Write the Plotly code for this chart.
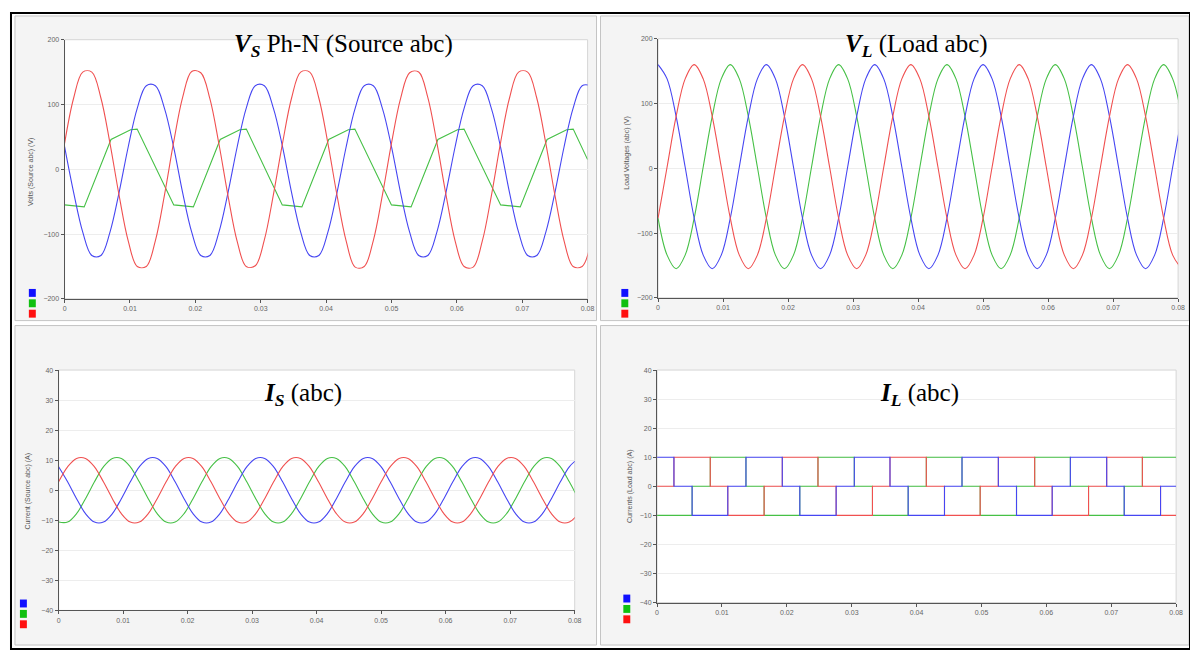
import plotly.graph_objects as go

# The page body adds an 8 px margin, so the figure itself is 1190 x 643
# and every reference pixel coordinate is shifted by OFF.
OFF = 8
W, H = 1198 - OFF, 651 - OFF

# ---------------- data ----------------
# common sample grid for the sinusoidal traces (s)
t = [round(i / 720, 6) for i in range(59)]

# Source phase-neutral voltages (V)
vs_red = [40, 110, 150, 150, 110, 40, -40, -110, -150, -150, -110, -40,
          41, 111, 151, 149, 109, 39, -41, -111, -150, -149, -109, -39,
          40, 110, 150, 150, 110, 40, -40, -110, -151, -150, -110, -40,
          40, 109, 149, 150, 111, 41, -39, -110, -150, -151, -111, -41,
          40, 110, 150, 150, 110, 40, -40, -110, -150, -150, -110]
vs_blue = [35, -36, -97, -133, -133, -97, -36, 34, 94, 129, 129, 94,
           35, -36, -97, -133, -133, -97, -36, 34, 94, 129, 129, 94,
           35, -36, -97, -133, -133, -97, -36, 34, 94, 129, 129, 94,
           35, -36, -97, -133, -133, -97, -36, 34, 94, 129, 129, 94,
           35, -36, -97, -133, -133, -97, -36, 34, 94, 129, 129]
vs_green_t = [0.0, 0.0030, 0.0071, 0.0101, 0.0111,
              0.0167, 0.0197, 0.0238, 0.0268, 0.0278,
              0.0333, 0.0363, 0.0404, 0.0434, 0.0444,
              0.0500, 0.0530, 0.0571, 0.0601, 0.0611,
              0.0667, 0.0697, 0.0738, 0.0768, 0.0778, 0.0800]
vs_green = [-55, -58, 46, 61, 62,
            -55, -58, 46, 61, 62,
            -55, -58, 46, 61, 62,
            -55, -58, 46, 61, 62,
            -55, -58, 46, 61, 62, 15]

# Load voltages (V)
vl_blue = [160, 138, 80, 2, -77, -134, -155, -134, -77, 2, 80, 138,
           160, 138, 80, 2, -77, -134, -155, -134, -77, 2, 80, 138,
           160, 138, 80, 2, -77, -134, -155, -134, -77, 2, 80, 138,
           160, 138, 80, 2, -77, -134, -155, -134, -77, 2, 80, 138,
           160, 138, 80, 2, -77, -134, -155, -134, -77, 2, 80]
vl_red = [-77, 2, 80, 138, 160, 138, 80, 2, -77, -134, -155, -134,
          -77, 2, 80, 138, 160, 138, 80, 2, -77, -134, -155, -134,
          -77, 2, 80, 138, 160, 138, 80, 2, -77, -134, -155, -134,
          -77, 2, 80, 138, 160, 138, 80, 2, -77, -134, -155, -134,
          -77, 2, 80, 138, 160, 138, 80, 2, -77, -134, -155]
vl_green = [-77, -134, -155, -134, -77, 2, 80, 138, 160, 138, 80, 2,
            -77, -134, -155, -134, -77, 2, 80, 138, 160, 138, 80, 2,
            -77, -134, -155, -134, -77, 2, 80, 138, 160, 138, 80, 2,
            -77, -134, -155, -134, -77, 2, 80, 138, 160, 138, 80, 2,
            -77, -134, -155, -134, -77, 2, 80, 138, 160, 138, 80]

# Source currents (A)
is_red = [2.8, 7.8, 10.6, 10.6, 7.8, 2.8, -2.8, -7.8, -10.6, -10.6, -7.8, -2.8,
          2.8, 7.8, 10.6, 10.6, 7.8, 2.8, -2.8, -7.8, -10.6, -10.6, -7.8, -2.8,
          2.8, 7.8, 10.6, 10.6, 7.8, 2.8, -2.8, -7.8, -10.6, -10.6, -7.8, -2.8,
          2.8, 7.8, 10.6, 10.6, 7.8, 2.8, -2.8, -7.8, -10.6, -10.6, -7.8, -2.8,
          2.8, 7.8, 10.6, 10.6, 7.8, 2.8, -2.8, -7.8, -10.6, -10.6, -7.8]
is_green = [-10.6, -10.6, -7.8, -2.8, 2.8, 7.8, 10.6, 10.6, 7.8, 2.8, -2.8, -7.8,
            -10.6, -10.6, -7.8, -2.8, 2.8, 7.8, 10.6, 10.6, 7.8, 2.8, -2.8, -7.8,
            -10.6, -10.6, -7.8, -2.8, 2.8, 7.8, 10.6, 10.6, 7.8, 2.8, -2.8, -7.8,
            -10.6, -10.6, -7.8, -2.8, 2.8, 7.8, 10.6, 10.6, 7.8, 2.8, -2.8, -7.8,
            -10.6, -10.6, -7.8, -2.8, 2.8, 7.8, 10.6, 10.6, 7.8, 2.8, -2.8]
is_blue = [7.8, 2.8, -2.8, -7.8, -10.6, -10.6, -7.8, -2.8, 2.8, 7.8, 10.6, 10.6,
           7.8, 2.8, -2.8, -7.8, -10.6, -10.6, -7.8, -2.8, 2.8, 7.8, 10.6, 10.6,
           7.8, 2.8, -2.8, -7.8, -10.6, -10.6, -7.8, -2.8, 2.8, 7.8, 10.6, 10.6,
           7.8, 2.8, -2.8, -7.8, -10.6, -10.6, -7.8, -2.8, 2.8, 7.8, 10.6, 10.6,
           7.8, 2.8, -2.8, -7.8, -10.6, -10.6, -7.8, -2.8, 2.8, 7.8, 10.6]

# Load currents (A): switching instants and levels
il_blue_t = [0, 0.0026, 0.0054, 0.0109, 0.0137, 0.0193, 0.0220, 0.0276, 0.0304, 0.0359,
             0.0387, 0.0443, 0.0470, 0.0526, 0.0554, 0.0609, 0.0637, 0.0693, 0.0720,
             0.0776, 0.0800]
il_blue = [10, 0, -10, 0, 10, 0, -10, 0, 10, 0, -10, 0, 10, 0, -10, 0, 10, 0, -10, 0, 0]
il_red_t = [0, 0.0026, 0.0082, 0.0109, 0.0165, 0.0193, 0.0248, 0.0276, 0.0332, 0.0359,
            0.0415, 0.0443, 0.0498, 0.0526, 0.0582, 0.0609, 0.0665, 0.0693, 0.0748,
            0.0776, 0.0800]
il_red = [0, 10, 0, -10, 0, 10, 0, -10, 0, 10, 0, -10, 0, 10, 0, -10, 0, 10, 0, -10, -10]
il_green_t = [0, 0.0054, 0.0082, 0.0137, 0.0165, 0.0220, 0.0248, 0.0304, 0.0332, 0.0387,
              0.0415, 0.0470, 0.0498, 0.0554, 0.0582, 0.0637, 0.0665, 0.0720, 0.0748,
              0.0800]
il_green = [-10, 0, 10, 0, -10, 0, 10, 0, -10, 0, 10, 0, -10, 0, 10, 0, -10, 0, 10, 10]

x_ticks = [0, 0.01, 0.02, 0.03, 0.04, 0.05, 0.06, 0.07, 0.08]
x_labels = ["0", "0.01", "0.02", "0.03", "0.04", "0.05", "0.06", "0.07", "0.08"]
v_ticks = [-200, -100, 0, 100, 200]
i_ticks = [-40, -30, -20, -10, 0, 10, 20, 30, 40]

# ---------------- styling ----------------
BLUE, GREEN, RED = "#4646f2", "#46c046", "#f05050"
LW = 1.1


def px(x):
    return (x - OFF) / W


def py(y):
    return 1 - (y - OFF) / H


def xd(a, b):
    return [px(a), px(b)]


def yd(top, bottom):
    return [py(bottom), py(top)]


fig = go.Figure()


def add(x, y, color, axis, shape="spline"):
    fig.add_trace(go.Scatter(
        x=x, y=y, mode="lines", xaxis="x" + axis, yaxis="y" + axis,
        line=dict(color=color, width=LW, shape=shape), showlegend=False,
        hoverinfo="skip"))


# top-left: source voltages
add(vs_green_t, vs_green, GREEN, "", "linear")
add(t, vs_blue, BLUE, "")
add(t, vs_red, RED, "")
# top-right: load voltages
add(t, vl_green, GREEN, "2")
add(t, vl_blue, BLUE, "2")
add(t, vl_red, RED, "2")
# bottom-left: source currents
add(t, is_green, GREEN, "3")
add(t, is_blue, BLUE, "3")
add(t, is_red, RED, "3")
# bottom-right: load currents
add(il_green_t, il_green, GREEN, "4", "hv")
add(il_red_t, il_red, RED, "4", "hv")
add(il_blue_t, il_blue, BLUE, "4", "hv")

tickfont = dict(family="Liberation Sans", size=7, color="#666")


def xaxis(dom, anchor):
    return dict(domain=dom, anchor=anchor, range=[0, 0.08], tickvals=x_ticks,
                ticktext=x_labels, tickfont=tickfont, showline=True,
                linecolor="#555", linewidth=1, ticks="outside", ticklen=3,
                tickcolor="#555", showgrid=False, zeroline=False, fixedrange=True)


def yaxis(dom, anchor, rng, ticks):
    return dict(domain=dom, anchor=anchor, range=rng, tickvals=ticks,
                tickfont=tickfont, showline=True, linecolor="#555", linewidth=1,
                ticks="outside", ticklen=3, tickcolor="#555", showgrid=True,
                gridcolor="#ededed", gridwidth=1, zeroline=False, fixedrange=True)


plots = {
    "": (63, 590, 36, 298),
    "2": (661, 1185, 35, 297),
    "3": (57, 577, 370, 613),
    "4": (660, 1183, 370, 605),
}

layout = dict(width=W, height=H, autosize=False,
              margin=dict(l=0, r=0, t=0, b=0),
              paper_bgcolor="white", plot_bgcolor="white", showlegend=False)

for k, (x0, x1, y0, y1) in plots.items():
    a = "x" + k
    b = "y" + k
    layout["xaxis" + k] = xaxis(xd(x0, x1), b)
    if k in ("", "2"):
        layout["yaxis" + k] = yaxis(yd(y0, y1), a, [-200, 200], v_ticks)
    else:
        layout["yaxis" + k] = yaxis(yd(y0, y1), a, [-40, 40], i_ticks)

fig.update_layout(**layout)

shapes = []


def rect(x0, y0, x1, y1, fill=None, line="#c4c4c4", width=1, layer="below"):
    shapes.append(dict(type="rect", xref="paper", yref="paper",
                       x0=px(x0), x1=px(x1), y0=py(y1), y1=py(y0),
                       fillcolor=fill or "rgba(0,0,0,0)",
                       line=dict(color=line, width=width), layer=layer))


# panel backgrounds
rect(13, 12, 599, 320, fill="#f4f4f4")
rect(603, 12, 1196, 320, fill="#f4f4f4")
rect(13, 325, 599, 648, fill="#f4f4f4")
rect(603, 325, 1196, 648, fill="#f4f4f4")

# white plot areas with light frames
for k, (x0, x1, y0, y1) in plots.items():
    rect(x0, y0, x1, y1, fill="white", line="#d6d6d6")

# colour legend squares
legend_pos = [(27, 288), (624, 288), (18, 602), (626, 597)]
for lx, ly in legend_pos:
    for j, c in enumerate(["#1010ff", "#10c010", "#ff1010"]):
        rect(lx, ly + j * 10.5, lx + 7, ly + j * 10.5 + 8, fill=c, line=c, width=0,
             layer="above")

# outer black frame
rect(9, 9, 1197, 652, line="black", width=2, layer="above")

fig.update_layout(shapes=shapes)

title_font = dict(family="Liberation Serif", size=25, color="black")
ann = []


def text(x, y, s, font, angle=0):
    ann.append(dict(x=px(x), y=py(y), xref="paper", yref="paper", text=s,
                    showarrow=False, font=font, xanchor="center", yanchor="middle",
                    textangle=angle))


text(344, 42, "<b><i>V</i></b><sub><b><i>S</i></b></sub> Ph-N (Source abc)", title_font)
text(921, 42, "<b><i>V</i></b><sub><b><i>L</i></b></sub> (Load abc)", title_font)
text(303, 395, "<b><i>I</i></b><sub><b><i>S</i></b></sub> (abc)", title_font)
text(924, 395, "<b><i>I</i></b><sub><b><i>L</i></b></sub> (abc)", title_font)

ytitle_font = dict(family="Liberation Sans", size=7, color="#555")
text(29, 170, "Volts (Source abc) (V)", ytitle_font, -90)
text(630, 150, "Load Voltages (abc) (V)", ytitle_font, -90)
text(26, 492, "Current (Source abc) (A)", ytitle_font, -90)
text(633, 487, "Currents (Load abc) (A)", ytitle_font, -90)

fig.update_layout(annotations=ann)

fig.write_html("out.html", config={"displayModeBar": False})
